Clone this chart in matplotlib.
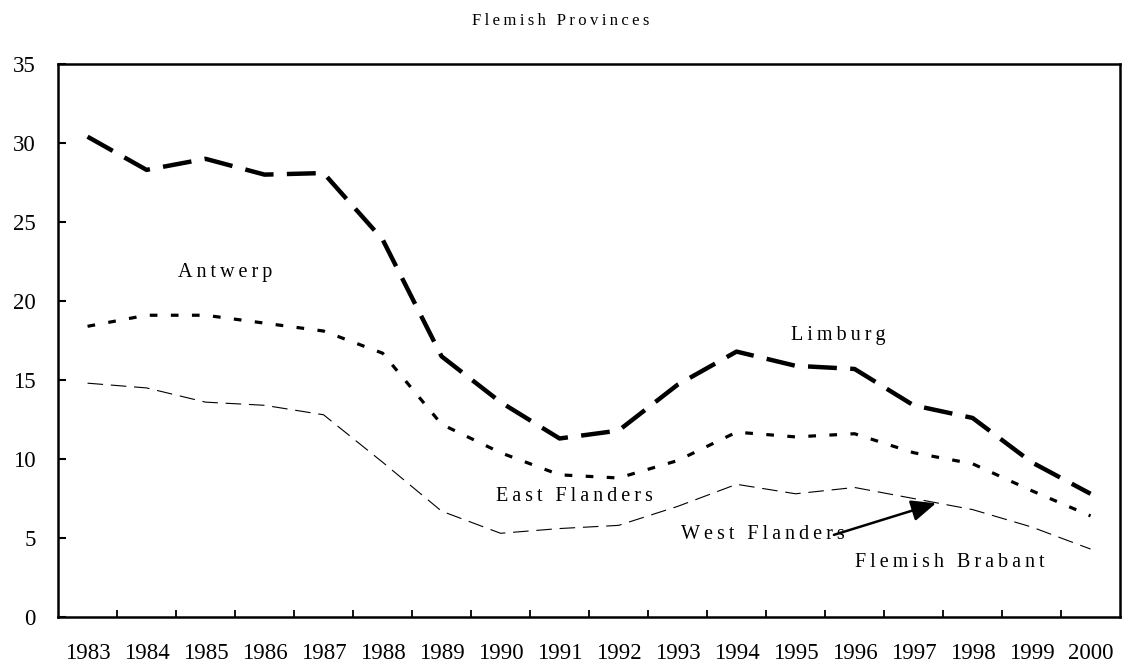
import numpy as np
import matplotlib
matplotlib.use('Agg')
import matplotlib.pyplot as plt

plt.rcParams['font.family'] = ['Liberation Serif', 'DejaVu Serif']

years = [str(y) for y in range(1983, 2001)]
limburg = [30.4, 28.3, 29.0, 28.0, 28.1, 23.9, 16.5, 13.6, 11.3, 11.8, 14.7, 16.8,
           15.9, 15.7, 13.4, 12.6, 9.8, 7.8]
antwerp = [18.4, 19.1, 19.1, 18.6, 18.1, 16.7, 12.2, 10.4, 9.0, 8.8, 9.9, 11.7,
           11.4, 11.6, 10.4, 9.7, 8.0, 6.4]
west_flanders = [14.8, 14.5, 13.6, 13.4, 12.8, 9.8, 6.7, 5.3, 5.6, 5.8, 7.0, 8.4,
                 7.8, 8.2, 7.5, 6.8, 5.7, 4.3]

def spaced(s):
    return '\u2009'.join(s)

fig = plt.figure(figsize=(11.25, 6.69), dpi=100)
ax = fig.add_axes([0.0516, 0.0777, 0.944, 0.8266])

x = np.arange(len(years))
ax.plot(x, limburg, color='black', lw=3.2, dashes=(6.5, 3), solid_capstyle='butt')
ax.plot(x, antwerp, color='black', lw=2.3, dashes=(2.4, 4.2))
ax.plot(x, west_flanders, color='black', lw=0.8, dashes=(14, 7))

ax.set_xlim(-0.5, len(years) - 0.5)
ax.set_ylim(0, 35)
ax.set_yticks(range(0, 36, 5))
ax.set_xticks(x)
ax.set_xticklabels(years)
ax.set_xticks(x[:-1] + 0.5, minor=True)

ax.tick_params(axis='x', which='major', length=0, pad=19, labelsize=16.5)
ax.tick_params(axis='x', which='minor', direction='in', length=5, width=1.3)
ax.tick_params(axis='y', direction='in', length=6, width=1.5, pad=16, labelsize=16.5)
for s in ax.spines.values():
    s.set_linewidth(1.8)

ax.text(2.33, 21.8, spaced('Antwerp'), fontsize=14.5, ha='center', va='center')
ax.text(12.72, 17.8, spaced('Limburg'), fontsize=14.5, ha='center', va='center')
ax.text(8.26, 7.6, spaced('East Flanders'), fontsize=14.5, ha='center', va='center')
ax.text(11.45, 5.25, spaced('West Flanders'), fontsize=14.5, ha='center', va='center')
ax.text(14.62, 3.45, spaced('Flemish Brabant'), fontsize=14.5, ha='center', va='center')
ax.annotate('', xy=(14.38, 7.2), xytext=(12.65, 5.2),
            arrowprops=dict(arrowstyle='-|>,head_length=1.5,head_width=0.65',
                            color='black', lw=1.8, shrinkA=0, shrinkB=0))

fig.text(0.498, 0.968, spaced('Flemish Provinces'), fontsize=12, ha='center', va='center')

fig.savefig('out.png', dpi=100)
